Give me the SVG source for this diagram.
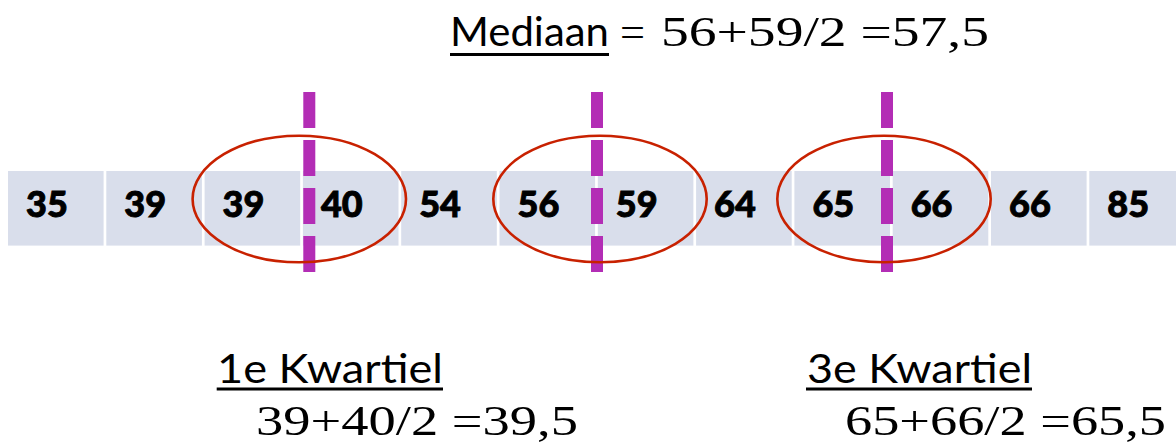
<svg xmlns="http://www.w3.org/2000/svg" width="1176" height="446" viewBox="0 0 1176 446">
<style>
.cell{fill:#D9DEEB}
.num{font-family:Lato,"Liberation Sans",sans-serif;font-weight:900;font-size:36px;fill:#000;stroke:#000;stroke-width:0.9}
.lbl{font-family:Lato,"Liberation Sans",sans-serif;font-size:40px;fill:#000}
.math{font-family:"Liberation Serif","DejaVu Serif",serif;font-size:43px;fill:#000}
.ul{stroke:#000;stroke-width:3}
.dash{stroke:#B32DB5;stroke-width:12;stroke-dasharray:36 12}
.ring{fill:none;stroke:#C82100;stroke-width:2.6}
</style>
<rect width="1176" height="446" fill="#fff"/>
<g id="cells">
<g id="c0"><rect class="cell" x="8" y="171" width="95.6" height="74.6"/><text class="num" x="26" y="217">35</text></g>
<g id="c1"><rect class="cell" x="106.3" y="171" width="95.6" height="74.6"/><text class="num" x="124.3" y="217">39</text></g>
<g id="c2"><rect class="cell" x="204.6" y="171" width="95.6" height="74.6"/><text class="num" x="222.6" y="217">39</text></g>
<g id="c3"><rect class="cell" x="302.9" y="171" width="95.6" height="74.6"/><text class="num" x="320.9" y="217">40</text></g>
<g id="c4"><rect class="cell" x="401.2" y="171" width="95.6" height="74.6"/><text class="num" x="419.2" y="217">54</text></g>
<g id="c5"><rect class="cell" x="499.5" y="171" width="95.6" height="74.6"/><text class="num" x="517.5" y="217">56</text></g>
<g id="c6"><rect class="cell" x="597.8" y="171" width="95.6" height="74.6"/><text class="num" x="615.8" y="217">59</text></g>
<g id="c7"><rect class="cell" x="696.1" y="171" width="95.6" height="74.6"/><text class="num" x="714.1" y="217">64</text></g>
<g id="c8"><rect class="cell" x="794.4" y="171" width="95.6" height="74.6"/><text class="num" x="812.4" y="217">65</text></g>
<g id="c9"><rect class="cell" x="892.7" y="171" width="95.6" height="74.6"/><text class="num" x="910.7" y="217">66</text></g>
<g id="c10"><rect class="cell" x="991" y="171" width="95.6" height="74.6"/><text class="num" x="1009" y="217">66</text></g>
<g id="c11"><rect class="cell" x="1089.3" y="171" width="95.6" height="74.6"/><text class="num" x="1107.3" y="217">85</text></g>
</g>
<g id="connectors">
<line class="dash" x1="309.3" y1="92" x2="309.3" y2="272"/>
<line class="dash" x1="597" y1="92" x2="597" y2="272"/>
<line class="dash" x1="887" y1="92" x2="887" y2="272"/>
</g>
<g id="rings">
<ellipse id="ring1" class="ring" cx="299.3" cy="199" rx="106.7" ry="63.3"/>
<ellipse id="ring2" class="ring" cx="600" cy="199" rx="106.7" ry="63.3"/>
<ellipse id="ring3" class="ring" cx="884" cy="199" rx="106.7" ry="63.3"/>
</g>
<g id="mediaan">
<text class="lbl" x="450" y="46" textLength="159" lengthAdjust="spacingAndGlyphs">Mediaan</text>
<line class="ul" x1="450" y1="54.5" x2="609" y2="54.5"/>
<text class="math" x="620" y="46" textLength="25" lengthAdjust="spacingAndGlyphs">=</text>
<text class="math" x="661" y="46" textLength="328" lengthAdjust="spacingAndGlyphs">56+59/2 =57,5</text>
</g>
<g id="kwartiel1">
<text class="lbl" x="217" y="383" textLength="226" lengthAdjust="spacingAndGlyphs">1e Kwartiel</text>
<line class="ul" x1="216.7" y1="389" x2="443" y2="389"/>
<text class="math" x="256" y="435" textLength="322" lengthAdjust="spacingAndGlyphs">39+40/2 =39,5</text>
</g>
<g id="kwartiel3">
<text class="lbl" x="807" y="383" textLength="225" lengthAdjust="spacingAndGlyphs">3e Kwartiel</text>
<line class="ul" x1="806" y1="389" x2="1032" y2="389"/>
<text class="math" x="845" y="435" textLength="321" lengthAdjust="spacingAndGlyphs">65+66/2 =65,5</text>
</g>
</svg>
